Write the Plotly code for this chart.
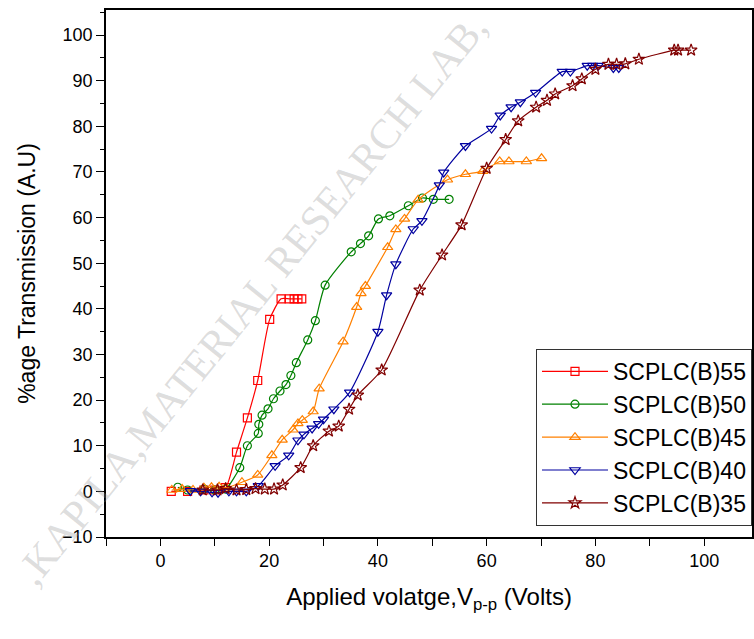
import plotly.graph_objects as go

# Applied voltage (V p-p) and % transmission for each sample
v55 = [2.0, 5.0, 8.0, 10.0, 12.0, 14.0, 16.0, 17.9, 20.1, 22.2, 23.7, 24.6, 25.3, 26.0]
t55 = [0.0, 0.0, 0.3, 0.3, 0.8, 8.6, 16.1, 24.3, 37.7, 42.2, 42.2, 42.2, 42.2, 42.2]

v50 = [3.2, 5.0, 8.0, 10.0, 12.0, 14.6, 16.0, 18.0, 18.1, 18.7, 19.8, 20.8, 22.0, 23.1, 24.0,
       25.0, 27.1, 28.5, 30.3, 35.1, 36.8, 38.3, 40.1, 42.2, 45.6, 48.2, 50.2, 53.1]
t50 = [0.9, 0.3, 0.5, 0.3, 0.5, 5.2, 10.0, 12.7, 14.7, 16.7, 18.1, 20.3, 22.0, 23.4, 25.4,
       28.2, 33.2, 37.4, 45.2, 52.5, 54.3, 56.0, 59.7, 60.4, 62.6, 64.3, 64.0, 64.0]

v45 = [2.1, 4.0, 6.0, 8.0, 9.4, 10.8, 12.0, 15.0, 17.9, 20.5, 22.4, 24.4, 25.3, 26.1, 28.1, 29.2,
       33.6, 36.1, 36.9, 37.7, 41.8, 43.3, 44.9, 47.4, 52.8, 56.1, 59.3, 62.4, 64.1, 67.3, 70.1]
t45 = [0.3, 0.5, 0.3, 0.8, 0.9, 1.0, 0.8, 2.0, 3.6, 7.9, 11.3, 13.5, 14.9, 15.6, 17.5, 22.5,
       32.8, 40.4, 43.4, 45.0, 53.5, 57.4, 59.7, 63.9, 68.3, 69.5, 70.2, 72.3, 72.3, 72.3, 73.0]

v40 = [5.5, 7.4, 9.5, 10.6, 12.6, 14.0, 15.8, 18.0, 21.1, 23.6, 25.3, 26.4, 27.9, 29.1, 30.0,
       31.9, 34.8, 40.0, 41.6, 43.3, 46.5, 48.1, 51.3, 52.1, 56.1, 60.9, 62.5, 64.5, 66.2,
       69.0, 73.9, 75.4, 78.5, 79.5, 80.5, 83.3, 84.3]
t40 = [0.1, 0.0, -0.2, -0.3, 0.0, 0.0, 0.0, 1.2, 5.6, 7.9, 11.2, 12.5, 13.8, 14.8, 15.8,
       18.0, 21.7, 35.0, 43.0, 49.8, 57.5, 59.3, 67.1, 69.9, 75.7, 79.5, 82.4, 84.2, 85.3,
       87.4, 92.0, 92.0, 93.3, 93.3, 93.3, 92.8, 92.8]

v35 = [7.8, 10.5, 12.0, 14.0, 15.8, 17.5, 19.2, 20.9, 22.5, 25.8, 28.1, 31.0, 32.8, 34.7, 36.3,
       40.7, 47.7, 51.8, 55.4, 60.0, 63.5, 65.8, 69.1, 71.1, 72.6, 75.8, 77.5, 80.0, 82.4,
       83.9, 85.5, 88.0, 94.5, 95.2, 97.6]
t35 = [0.3, 0.3, 0.6, 0.3, 0.4, 0.6, 0.5, 0.5, 1.4, 5.2, 10.0, 13.2, 14.3, 18.0, 21.1,
       26.6, 44.1, 51.8, 58.4, 70.8, 77.1, 81.2, 84.2, 85.7, 87.1, 88.9, 90.4, 92.5, 93.6,
       93.6, 93.7, 94.7, 96.7, 96.7, 96.7]

series = [
    ("SCPLC(B)55", v55, t55, "#FF0000", "square-open", 8),
    ("SCPLC(B)50", v50, t50, "#008000", "circle-open", 8),
    ("SCPLC(B)45", v45, t45, "#FF8000", "triangle-up-open", 9),
    ("SCPLC(B)40", v40, t40, "#0000A0", "triangle-down-open", 9),
    ("SCPLC(B)35", v35, t35, "#800000", "star-open", 9),
]

fig = go.Figure()
for name, xs, ys, color, symbol, size in series:
    fig.add_trace(go.Scatter(
        x=xs, y=ys, name=name, mode="lines+markers",
        line=dict(color=color, width=1.2, shape="spline", smoothing=0.6),
        marker=dict(symbol=symbol, size=size, color=color, line=dict(color=color, width=1.2)),
    ))

sans = "Liberation Sans, Arial, sans-serif"
axis_font = dict(family=sans, size=18, color="black")

fig.update_layout(
    width=754, height=639,
    margin=dict(l=106, r=0, t=10, b=102),
    paper_bgcolor="white", plot_bgcolor="white",
    font=dict(family=sans, color="black"),
    showlegend=True,
    legend=dict(
        x=1, y=0.357, xanchor="right", yanchor="top",
        bgcolor="white", bordercolor="#333333", borderwidth=1,
        font=dict(size=23, family=sans),
        tracegroupgap=0, itemwidth=66,
    ),
    xaxis=dict(
        range=[-10, 108.8], tickvals=[0, 20, 40, 60, 80, 100],
        ticks="outside", ticklen=7, tickwidth=1.3, tickcolor="black",
        minor=dict(dtick=10, tick0=0, ticks="outside", ticklen=7, tickwidth=1.3, tickcolor="black"),
        showline=True, linecolor="black", linewidth=1.5, mirror=True,
        showgrid=False, zeroline=False, tickfont=axis_font,
        title=dict(text="Applied volatge,V<sub>p-p</sub> (Volts)", standoff=18,
                   font=dict(size=24, family=sans)),
    ),
    yaxis=dict(
        range=[-10, 105.5], tickvals=list(range(-10, 101, 10)),
        ticks="outside", ticklen=8, tickwidth=1.3, tickcolor="black",
        minor=dict(dtick=5, tick0=0, ticks="outside", ticklen=4, tickwidth=1.3, tickcolor="black"),
        showline=True, linecolor="black", linewidth=1.5, mirror=True,
        showgrid=False, zeroline=False, tickfont=axis_font,
        title=dict(text="%age Transmission (A.U)", standoff=20,
                   font=dict(size=23, family=sans)),
    ),
    annotations=[dict(
        text=",KAPILA,MATERIAL RESEARCH LAB,", xref="paper", yref="paper",
        x=0.225, y=0.452, xanchor="center", yanchor="middle",
        showarrow=False, textangle=-51,
        font=dict(family="Liberation Serif, serif", size=42, color="rgba(150,150,150,0.33)"),
    )],
)

fig.write_html("out.html")
